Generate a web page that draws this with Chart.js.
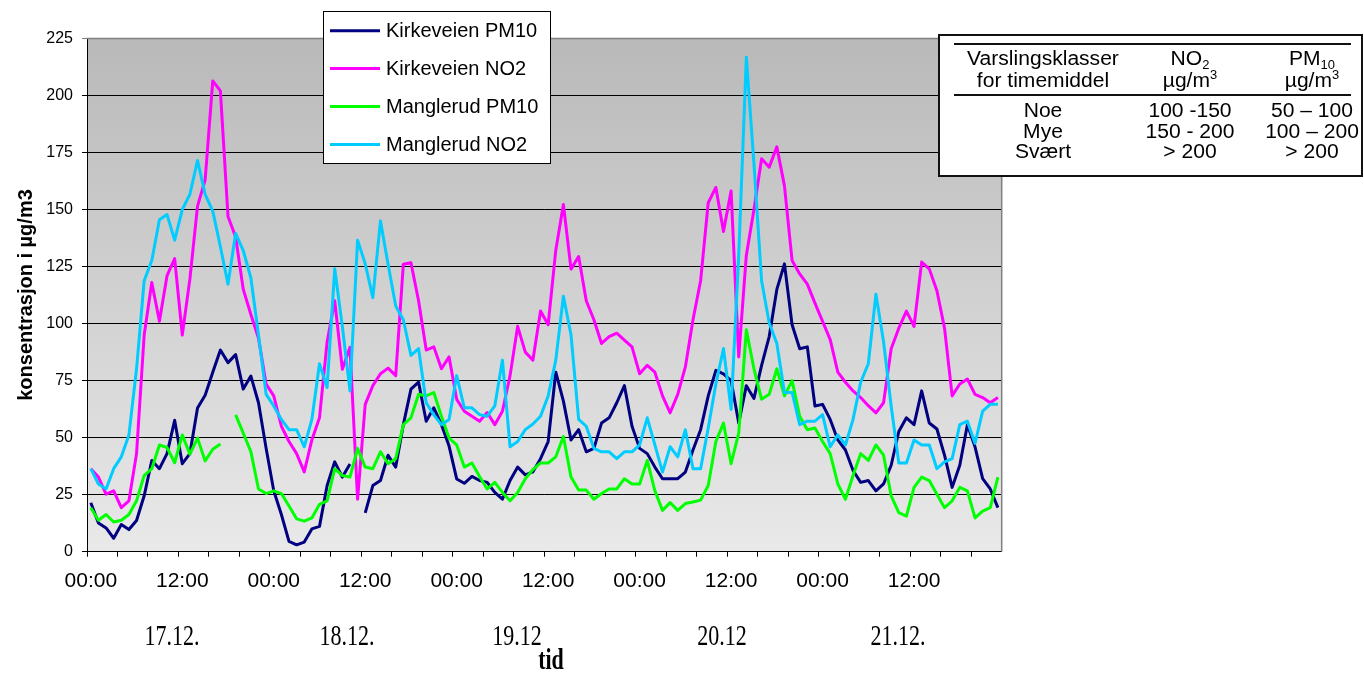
<!DOCTYPE html>
<html>
<head>
<meta charset="utf-8">
<script src="https://cdn.jsdelivr.net/npm/chart.js@4.4.1/dist/chart.umd.min.js"></script>
<style>
  body { margin: 0; background: #fff; }
</style>
</head>
<body>
<canvas id="lineChart" width="1364" height="673"></canvas>
<script>
// days on the x axis, one value per hour (00:00 - 23:00)
const dayLabels = ['17.12.', '18.12.', '19.12', '20.12', '21.12.'];
const dayLabelX = [172, 347, 517, 722, 898];
const yTicks = [0, 25, 50, 75, 100, 125, 150, 175, 200, 225];

const categories = [];
dayLabels.forEach(d => {
  for (let h = 0; h < 24; h++) categories.push(d + ' ' + String(h).padStart(2, '0') + ':00');
});

const kirkeveienPM10 = [
  21.5, 12.6, 10.4, 5.9, 11.9, 9.7, 13.7, 24.5, 40, 36.4, 43, 57.6, 38.6, 43, 63, 68.6, 78.7, 88.4, 82.9, 86.4, 71.3, 77, 65.3, 45.3,
  26.7, 16.3, 4.5, 3, 4.2, 10, 11.1, 29, 39.4, 32.7, 38.5, null, 17, 29, 31.2, 42.3, 37.1, 55.7, 71.3, 74.3, 57.2, 63.1, 55.7, 46.3,
  31.9, 30, 33, 31.2, 30.4, 26, 23, 31.2, 37.1, 33.7, 35, 40.8, 48.3, 78.7, 66, 49, 53.5, 43.8, 45.3, 56.4, 58.7, 65.3, 72.8, 55,
  45.3, 43, 37.1, 32, 32, 32, 34.9, 44.6, 53.5, 68.3, 79.5, 78, 75, 56.4, 72.8, 67.2, 81.7, 94.3, 115, 126.2, 99.5, 89, 89.8, 63.9,
  64.6, 58, 49, 44.6, 35.6, 30.4, 31.2, 26.7, 29.7, 37.9, 52.7, 58.7, 55.7, 70.5, 56.4, 53.8, 42.3, 28.2, 37.9, 55.7, 46, 32, 27.5, 19.3
];
const kirkeveienNO2 = [
  36.4, 32.7, 25.2, 26.7, 19.3, 22.3, 43, 95, 118, 101, 121, 128.5, 95, 119.6, 151.5, 163, 206.4, 202, 147, 138, 115, 104, 93.6, 73.5,
  68.3, 55, 48.3, 43, 35, 49, 58.7, 92, 110, 80, 89.6, 23, 64.6, 72.8, 78, 80.5, 77.2, 126, 126.7, 110, 88.4, 89.8, 80.2, 85.4,
  66.8, 61.6, 59.4, 57.2, 61, 55.7, 61.6, 77.2, 98.8, 87.5, 84, 105.5, 99.5, 132.2, 152.2, 123.9, 129.4, 110, 101.7, 91.3, 94.3, 95.8, 92.8, 89.8,
  78, 81.7, 78.7, 68.3, 60.9, 69, 81, 101.7, 118.8, 153, 159.7, 140.4, 158.2, 85.4, 130, 150, 172.3, 168.6, 177.5, 160.4, 127.7, 121.8, 117.3, 109,
  101, 93, 78.7, 74.3, 70.5, 67.6, 64, 60.9, 65.3, 89, 98, 105.5, 98.8, 127, 124, 114.4, 98, 68.3, 73.5, 75.7, 69, 67.6, 65.3, 67.6
];
const manglerudPM10 = [
  19.3, 13.8, 16.3, 13, 13.8, 16.3, 22.3, 33.4, 36.4, 46.8, 45.7, 39, 51.2, 42.8, 49.8, 39.8, 44.9, 47.2, null, 60, 52, 43.8, 27.5, 25.5,
  26.7, 25.5, 20, 14.4, 13.4, 14.8, 20.8, 22.3, 36.4, 33.4, 32.7, 45.3, 37.1, 36.4, 43.8, 38.6, 40.8, 55.7, 58.7, 69, 68.3, 69.8, 59.4, 49.8,
  46.8, 37.1, 38.9, 33, 27.5, 30.4, 26, 22.3, 26, 32, 36, 38.9, 38.9, 41.6, 50.5, 32.7, 27, 27, 23, 25.5, 27.5, 27.5, 32, 29.7,
  29.7, 40, 26.7, 18.1, 21.5, 18.1, 21.1, 21.8, 22.6, 29, 48.3, 56.4, 38.6, 52, 97.3, 80.2, 66.8, 69, 80.2, 68.3, 75, 59.4, 53.5, 54.2,
  48.3, 43, 29.7, 23, 33.4, 43, 40, 46.8, 42.3, 24.5, 17.1, 15.6, 28.2, 32.7, 31.2, 25.2, 19.3, 22.3, 28.2, 26.7, 14.8, 17.8, 19.3, 32.7
];
const manglerudNO2 = [
  36.4, 29.7, 27.5, 36.4, 41.6, 51.2, 80.2, 118.8, 127.7, 145.5, 147.8, 136.6, 150, 156.7, 171.5, 156.7, 149.3, 133.7, 117.3, 139.6, 132, 120, 95, 69,
  63.9, 58, 53.5, 53.5, 46, 58, 82.4, 72, 124, 98.8, 70.5, 136.6, 126.2, 111.4, 145, 126, 107.7, 101.7, 86.1, 89, 65.3, 60, 55.7, 58,
  77.2, 63.1, 63.1, 60.1, 59.4, 63.9, 84, 46, 48.3, 53.5, 56, 59.4, 68.3, 84, 112, 95, 58, 55, 45.3, 43.8, 43.8, 40.8, 43.8, 43.8,
  46.8, 58.7, 46.8, 34.9, 46, 41.6, 53.5, 36.4, 36.4, 54.2, 73.5, 89.1, 62.4, 130, 216.8, 170, 118.8, 100.3, 91.3, 69.8, 69.8, 55.7, 57.2, 57.2,
  60.1, 46, 51.2, 46.8, 58, 74.3, 82.4, 112.9, 92.1, 63.9, 38.9, 38.9, 49, 46.8, 46.8, 36.4, 39.4, 40.8, 55.7, 57.2, 47.5, 61.6, 64.6, 64.6
];

// varslingsklasser table
const tableHeadCol1 = ['Varslingsklasser', 'for timemiddel'];
const tableRows = [
  ['Noe', '100 -150', '50 \u2013 100'],
  ['Mye', '150 - 200', '100 \u2013 200'],
  ['Sv\u00e6rt', '> 200', '> 200']
];

const SANS = '"Liberation Sans", Arial, sans-serif';
const SERIF = '"Liberation Serif", "Times New Roman", serif';

// draw a piece of text made of parts (for sub/superscript), centered at cx
function drawParts(ctx, parts, cx, baseline, sx) {
  let total = 0;
  parts.forEach(p => {
    ctx.font = p.size + 'px ' + SANS;
    p.w = ctx.measureText(p.t).width * sx;
    total += p.w;
  });
  let x = cx - total / 2;
  parts.forEach(p => {
    ctx.save();
    ctx.translate(x, baseline + (p.dy || 0));
    ctx.scale(sx, 1);
    ctx.font = p.size + 'px ' + SANS;
    ctx.textAlign = 'left';
    ctx.textBaseline = 'alphabetic';
    ctx.fillText(p.t, 0, 0);
    ctx.restore();
    x += p.w;
  });
}

function stretchedText(ctx, text, cx, cy, font, sy) {
  ctx.save();
  ctx.translate(cx, cy);
  ctx.scale(1, sy);
  ctx.font = font;
  ctx.textAlign = 'center';
  ctx.textBaseline = 'middle';
  ctx.fillText(text, 0, 0);
  ctx.restore();
}

const decor = {
  id: 'decor',
  beforeDraw(chart) {
    const { ctx, chartArea: a } = chart;
    ctx.save();
    ctx.fillStyle = '#fff';
    ctx.fillRect(0, 0, chart.width, chart.height);
    const g = ctx.createLinearGradient(0, a.top, 0, a.bottom);
    g.addColorStop(0, '#b9b9b9');
    g.addColorStop(1, '#e9e9e9');
    ctx.fillStyle = g;
    ctx.fillRect(a.left, a.top, a.right - a.left, a.bottom - a.top);
    ctx.restore();
  },
  beforeDatasetsDraw(chart) {
    const { ctx, chartArea: a } = chart;
    ctx.save();
    ctx.strokeStyle = '#808080';
    ctx.lineWidth = 1.5;
    ctx.beginPath();
    ctx.moveTo(a.left, a.top);
    ctx.lineTo(a.right, a.top);
    ctx.lineTo(a.right, a.bottom);
    ctx.stroke();
    ctx.restore();
  },
  afterDraw(chart) {
    const ctx = chart.ctx;
    ctx.save();

    // legend
    ctx.fillStyle = '#fff';
    ctx.fillRect(323, 11, 227, 153);
    ctx.strokeStyle = '#000';
    ctx.lineWidth = 1;
    ctx.strokeRect(323.5, 11.5, 227, 152);
    chart.data.datasets.forEach((ds, i) => {
      const y = 30.7 + i * 37.9;
      ctx.strokeStyle = ds.borderColor;
      ctx.lineWidth = 3;
      ctx.beginPath();
      ctx.moveTo(330, y);
      ctx.lineTo(380, y);
      ctx.stroke();
      ctx.fillStyle = '#000';
      ctx.font = '20px ' + SANS;
      ctx.textAlign = 'left';
      ctx.textBaseline = 'middle';
      ctx.fillText(ds.label, 386, y + 1);
    });

    // table
    ctx.fillStyle = '#fff';
    ctx.fillRect(938, 34, 425, 142);
    ctx.strokeStyle = '#111';
    ctx.lineWidth = 2;
    ctx.strokeRect(939, 35, 423, 141);
    ctx.beginPath();
    ctx.moveTo(954, 44); ctx.lineTo(1351, 44);
    ctx.moveTo(954, 95); ctx.lineTo(1351, 95);
    ctx.stroke();
    ctx.fillStyle = '#000';
    const sx = 1.08;
    const cols = [1043, 1190, 1312];
    drawParts(ctx, [{ t: tableHeadCol1[0], size: 19.5 }], cols[0], 65, sx);
    drawParts(ctx, [{ t: tableHeadCol1[1], size: 19.5 }], cols[0], 87, sx);
    drawParts(ctx, [{ t: 'NO', size: 19.5 }, { t: '2', size: 12, dy: 4 }], cols[1], 65, sx);
    drawParts(ctx, [{ t: 'PM', size: 19.5 }, { t: '10', size: 12, dy: 4 }], cols[2], 65, sx);
    drawParts(ctx, [{ t: '\u00b5g/m', size: 19.5 }, { t: '3', size: 12, dy: -8 }], cols[1], 87, sx);
    drawParts(ctx, [{ t: '\u00b5g/m', size: 19.5 }, { t: '3', size: 12, dy: -8 }], cols[2], 87, sx);
    tableRows.forEach((row, r) => {
      row.forEach((cell, c) => drawParts(ctx, [{ t: cell, size: 19.5 }], cols[c], 117 + r * 20.5, sx));
    });

    // y title
    ctx.save();
    ctx.translate(26, 295);
    ctx.rotate(-Math.PI / 2);
    ctx.font = 'bold 20px ' + SANS;
    ctx.textAlign = 'center';
    ctx.textBaseline = 'middle';
    ctx.fillText('konsentrasjon i \u00b5g/m3', 0, 0);
    ctx.restore();

    // day labels + x title
    dayLabels.forEach((d, i) => stretchedText(ctx, d, dayLabelX[i], 637, '22px ' + SERIF, 1.3));
    stretchedText(ctx, 'tid', 551, 661, 'bold 22px ' + SERIF, 1.35);

    ctx.restore();
  }
};

const ctx = document.getElementById('lineChart');
const lineChart = new Chart(ctx, {
  type: 'line',
  data: {
    labels: categories,
    datasets: [
      { label: 'Kirkeveien PM10', data: kirkeveienPM10, borderColor: '#000080', order: 4 },
      { label: 'Kirkeveien NO2', data: kirkeveienNO2, borderColor: '#ff00ff', order: 3 },
      { label: 'Manglerud PM10', data: manglerudPM10, borderColor: '#00ff00', order: 2 },
      { label: 'Manglerud NO2', data: manglerudNO2, borderColor: '#00ccff', order: 1 }
    ].map(ds => Object.assign(ds, {
      borderWidth: 3, pointRadius: 0, tension: 0, spanGaps: false,
      borderJoinStyle: 'round', fill: false
    }))
  },
  options: {
    responsive: false,
    animation: false,
    layout: { padding: { left: 0, top: 38.5, right: 362.3, bottom: 0 } },
    plugins: { legend: { display: false }, tooltip: { enabled: false } },
    scales: {
      x: {
        type: 'category',
        offset: true,
        afterFit: s => { s.height = 121.3; },
        border: { color: '#000', width: 1 },
        grid: {
          offset: true,
          drawOnChartArea: false,
          drawTicks: true,
          tickLength: 5,
          color: c => (c.index % 4 === 0 ? '#000' : 'rgba(0,0,0,0)')
        },
        ticks: {
          autoSkip: false,
          maxRotation: 0,
          minRotation: 0,
          padding: 12,
          color: '#000',
          font: { family: SANS, size: 21 },
          callback: (v, i) => (i % 12 === 0 ? categories[i].slice(-5) : '')
        }
      },
      y: {
        min: yTicks[0],
        max: yTicks[yTicks.length - 1],
        afterFit: s => { s.width = 87; },
        afterBuildTicks: s => { s.ticks = yTicks.map(v => ({ value: v })); },
        border: { color: '#000', width: 1 },
        grid: {
          color: c => (c.tick && c.tick.value === 225 ? '#808080' : '#000'),
          lineWidth: 1,
          tickLength: 5
        },
        ticks: {
          padding: 9,
          color: '#000',
          font: { family: SANS, size: 16 }
        }
      }
    }
  },
  plugins: [decor]
});
</script>
</body>
</html>
